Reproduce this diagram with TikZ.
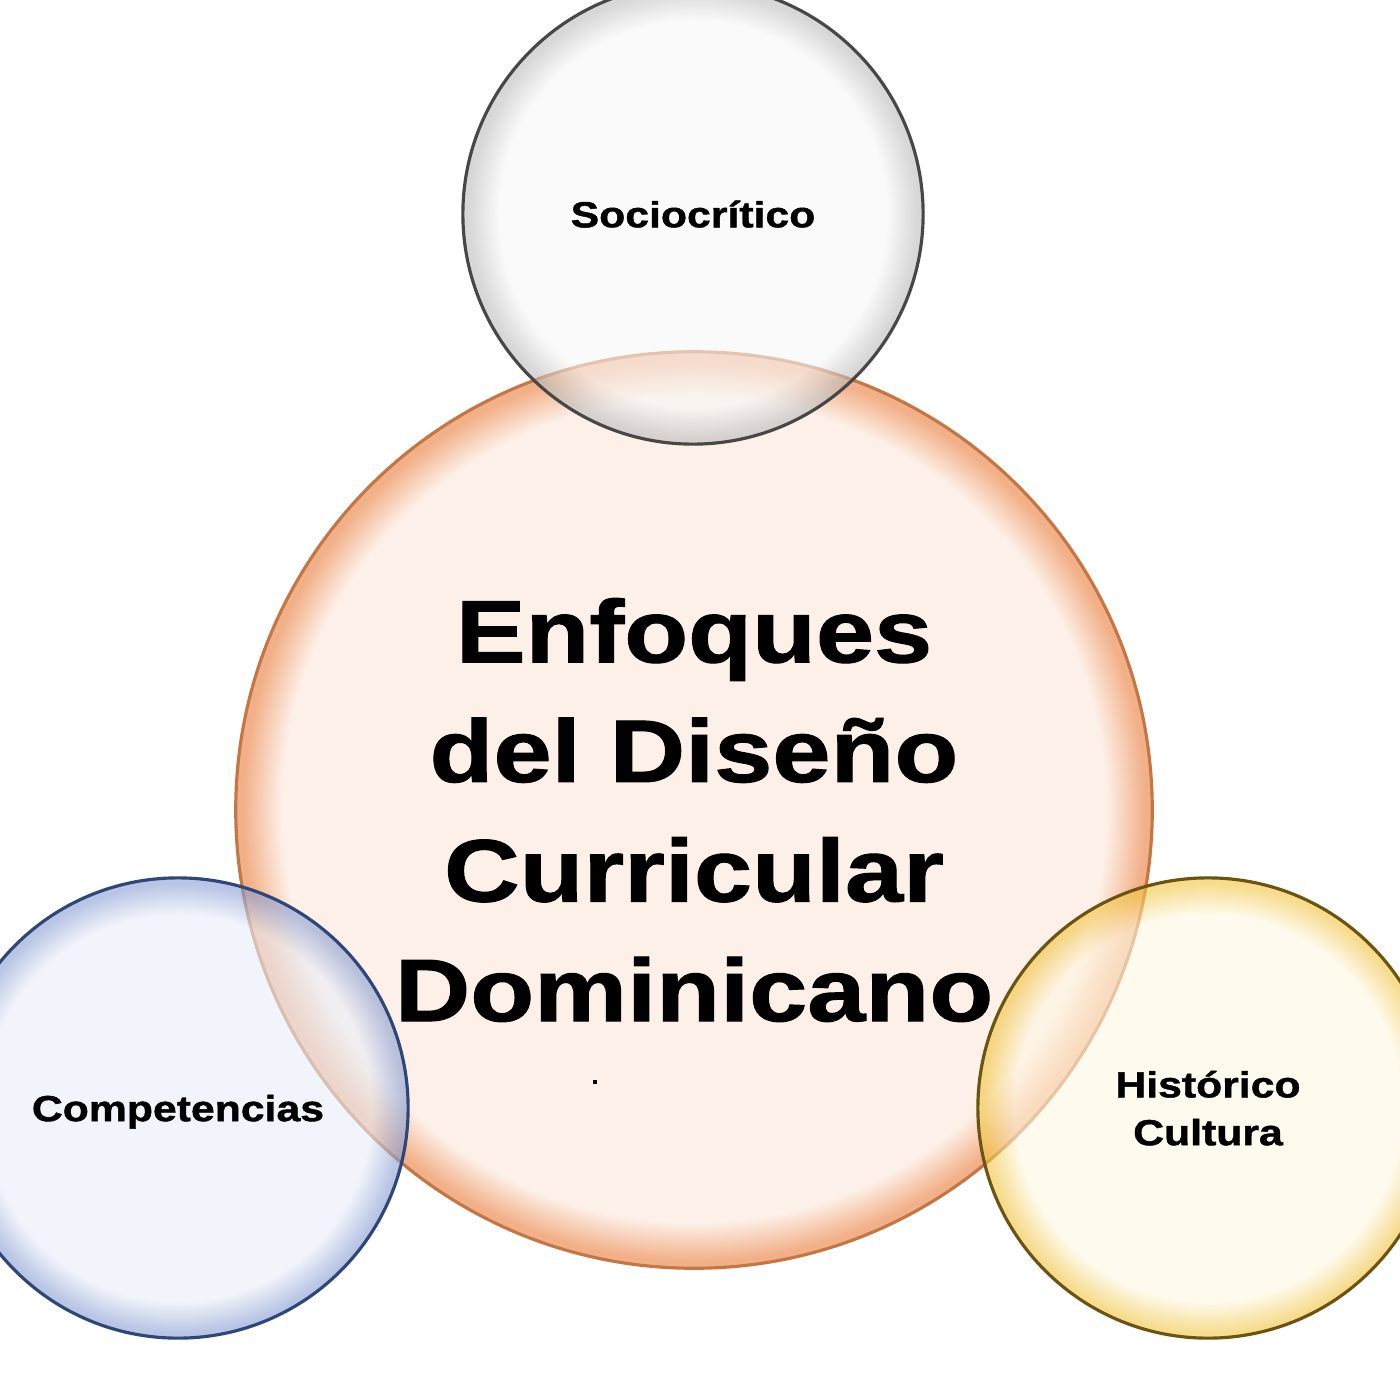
\documentclass[tikz,border=0pt]{standalone}
\usepackage{fontspec}
\newfontfamily\bubblefont[FakeStretch=1.18, FakeBold=1.2]{Liberation Sans}

\definecolor{mainin}{HTML}{FDF0E8}
\definecolor{mainout}{HTML}{F2B088}
\definecolor{mainline}{HTML}{C47645}
\definecolor{topin}{HTML}{F8F8F8}
\definecolor{topout}{HTML}{BDBDBD}
\definecolor{topline}{HTML}{474747}
\definecolor{leftin}{HTML}{E9EEF8}
\definecolor{leftout}{HTML}{8A9FD3}
\definecolor{leftline}{HTML}{2E4678}
\definecolor{rightin}{HTML}{FFF8E3}
\definecolor{rightout}{HTML}{F2C644}
\definecolor{rightline}{HTML}{6B5410}

% glossy fills, the rim of the circle is at 25bp
\pgfdeclareradialshading{mainshade}{\pgfpoint{0bp}{0bp}}{color(0bp)=(mainin); color(22.5bp)=(mainin); color(24.6bp)=(mainout); color(25bp)=(mainout); color(50bp)=(mainout)}
\pgfdeclareradialshading{topshade}{\pgfpoint{0bp}{0bp}}{color(0bp)=(topin); color(21bp)=(topin); color(24.4bp)=(topout); color(25bp)=(topout); color(50bp)=(topout)}
\pgfdeclareradialshading{leftshade}{\pgfpoint{0bp}{0bp}}{color(0bp)=(leftin); color(21bp)=(leftin); color(24.4bp)=(leftout); color(25bp)=(leftout); color(50bp)=(leftout)}
\pgfdeclareradialshading{rightshade}{\pgfpoint{0bp}{0bp}}{color(0bp)=(rightin); color(21bp)=(rightin); color(24.4bp)=(rightout); color(25bp)=(rightout); color(50bp)=(rightout)}

\tikzset{
  bubble/.style n args={2}{circle, shade, shading=#1, draw=#2, line width=0.9pt,
    inner sep=0pt, align=center, text=black},
  smallbubble/.style n args={2}{bubble={#1}{#2}, minimum size=4.6cm,
    fill opacity=0.6, text opacity=1, text depth=0pt,
    font=\bubblefont\bfseries\fontsize{10.3pt}{13.6pt}\selectfont},
}

\begin{document}
\begin{tikzpicture}[x=0.01cm, y=-0.01cm]
  \useasboundingbox (0,0) rectangle (1400,1400);
  \clip (0,0) rectangle (1400,1400);
  \fill[white] (0,0) rectangle (1400,1400);

  \node[bubble={mainshade}{mainline}, minimum size=9.16cm,
    font=\bubblefont\bfseries\fontsize{25.2pt}{34pt}\selectfont] (enfoques) at (694,810)
    {Enfoques\\del Diseño\\Curricular\\Dominicano};

  \foreach \name/\x/\y/\shd/\col/\txt in {
      socio/693/214/topshade/topline/{Sociocrítico},
      compet/178/1108/leftshade/leftline/{Competencias},
      hist/1208/1108/rightshade/rightline/{Histórico\\Cultura}}{
    \node[smallbubble={\shd}{\col}] (\name) at (\x,\y) {\txt};
  }

  \node[fill=black, inner sep=0pt, minimum size=0.4mm] (dot) at (595,1082) {};
\end{tikzpicture}
\end{document}
